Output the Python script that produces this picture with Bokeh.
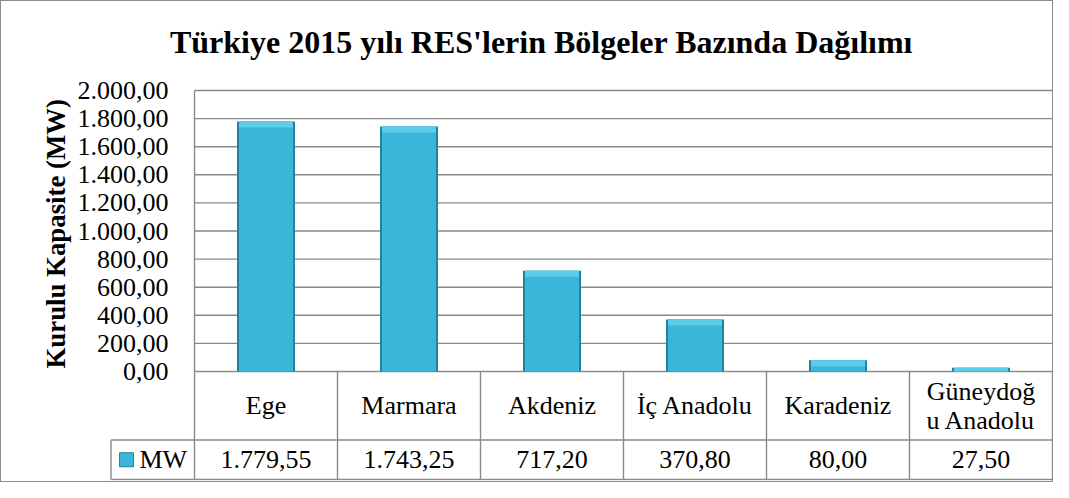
from bokeh.plotting import figure
from bokeh.models import Range1d, FixedTicker, CustomJSTickFormatter, Title
from bokeh.embed import file_html
from bokeh.resources import INLINE
from bokeh.core.properties import value

# ---------------- data ----------------
title_text = "Türkiye 2015 yılı RES'lerin Bölgeler Bazında Dağılımı"
y_title = "Kurulu Kapasite (MW)"
series_name = "MW"
regions = ["Ege", "Marmara", "Akdeniz", "İç Anadolu", "Karadeniz", "Güneydoğ\nu Anadolu"]
mw = [1779.55, 1743.25, 717.20, 370.80, 80.00, 27.50]
y_ticks = [0, 200, 400, 600, 800, 1000, 1200, 1400, 1600, 1800, 2000]


def tr_fmt(v):
    s = f"{v:,.2f}"
    return s.replace(",", "#").replace(".", ",").replace("#", ".")


# ---------------- layout constants ----------------
FONT = "Liberation Serif"
W, H = 1053, 482
n = len(regions)
y_max = y_ticks[-1]
KY = 281 / y_max          # px per MW
KX = 143                  # px per category
PLOT_L = 193              # px where the category axis starts
TOP_PX = 89               # px of the y_max gridline
FL, FR, FT, FB = 108, 1052, 1, 479   # frame edges in px

y_end = y_max + (TOP_PX - FT) / KY
y_start = y_end - (FB - FT) / KY
x_start = (FL - PLOT_L) / KX
x_end = x_start + (FR - FL) / KX

split_y = -68.5 / KY          # between category row and value row
bottom_y = -108 / KY          # bottom of data table
leg_left = -83.5 / KX         # left edge of legend cell
cat_mid = split_y / 2
val_mid = (split_y + bottom_y) / 2

GRID = "#8a8a8a"
BAR = "#3ab6d8"
BAR_EDGE = "#23829f"
BAR_TOP = "#5fcdea"

p = figure(width=W, height=H,
           x_range=Range1d(x_start, x_end), y_range=Range1d(y_start, y_end),
           output_backend="svg", toolbar_location=None, x_axis_location=None,
           min_border_left=FL, min_border_right=W - FR,
           min_border_top=FT, min_border_bottom=H - FB,
           styles={"border": "1px solid #8c8c8c"})
p.outline_line_color = None
p.xgrid.visible = False
p.ygrid.visible = False
p.background_fill_color = "white"
p.border_fill_color = "white"
p.title.visible = False

# y axis
ax = p.yaxis[0]
ax.ticker = FixedTicker(ticks=y_ticks)
ax.formatter = CustomJSTickFormatter(code=r"""
const s = tick.toFixed(2);
const parts = s.split('.');
const i = parts[0].replace(/\B(?=(\d{3})+(?!\d))/g, '.');
return i + ',' + parts[1];
""")
ax.axis_line_color = None
ax.major_tick_line_color = None
ax.minor_tick_line_color = None
ax.major_tick_out = 0
ax.major_tick_in = 0
ax.major_label_standoff = -59
ax.major_label_text_font = FONT
ax.major_label_text_font_size = "26px"
ax.major_label_text_color = "black"

# y axis title
p.add_layout(Title(text=y_title, align="left", offset=112, standoff=8,
                   text_font=FONT, text_font_size="26.8px", text_font_style="bold",
                   text_color="black"), "left")

# chart title (drawn above the y_max gridline)
p.text(x=[x_start + (540 - FL) / KX], y=[y_max + (TOP_PX - 40) / KY], text=[title_text],
       text_align="center", text_baseline="alphabetic", text_font=value(FONT),
       text_font_size="32px", text_font_style="bold", text_color="black")

# grid lines (only across the plot area)
p.segment(x0=[0] * len(y_ticks), x1=[n] * len(y_ticks), y0=y_ticks, y1=y_ticks,
          line_color=GRID, line_width=1.4)

# data table lines
p.segment(x0=[leg_left, leg_left], x1=[n, n], y0=[split_y, bottom_y], y1=[split_y, bottom_y],
          line_color=GRID, line_width=1.4)
p.segment(x0=list(range(0, n + 1)), x1=list(range(0, n + 1)),
          y0=[bottom_y] * (n + 1), y1=[y_max] + [0] * n,
          line_color=GRID, line_width=1.4)
p.segment(x0=[leg_left], x1=[leg_left], y0=[bottom_y], y1=[split_y],
          line_color=GRID, line_width=1.4)

# bars
xc = [i + 0.5 for i in range(n)]
bar_w = 58 / KX
inner_w = bar_w - 4 / KX
p.vbar(x=xc, top=mw, bottom=0, width=bar_w, fill_color=BAR_EDGE, line_color=None)
p.vbar(x=xc, top=mw, bottom=0, width=inner_w, fill_color=BAR, line_color=None)
p.vbar(x=xc, top=mw, bottom=[max(0, v - 6 / KY) for v in mw], width=inner_w,
       fill_color=BAR_TOP, line_color=None)

# table texts
p.text(x=xc, y=[cat_mid] * n, text=regions, text_align="center", text_baseline="middle",
       text_font=value(FONT), text_font_size="26px", text_color="black", text_line_height=1.0)
p.text(x=xc, y=[val_mid] * n, text=[tr_fmt(v) for v in mw], text_align="center",
       text_baseline="middle", text_font=value(FONT), text_font_size="26px", text_color="black")

# legend cell
p.scatter(x=[-68 / KX], y=[val_mid], marker="square", size=14,
          fill_color=BAR, line_color=BAR_EDGE)
p.text(x=[-55 / KX], y=[val_mid], text=[series_name], text_align="left", text_baseline="middle",
       text_font=value(FONT), text_font_size="26px", text_color="black")

open("out.html", "w").write(file_html(p, INLINE))
